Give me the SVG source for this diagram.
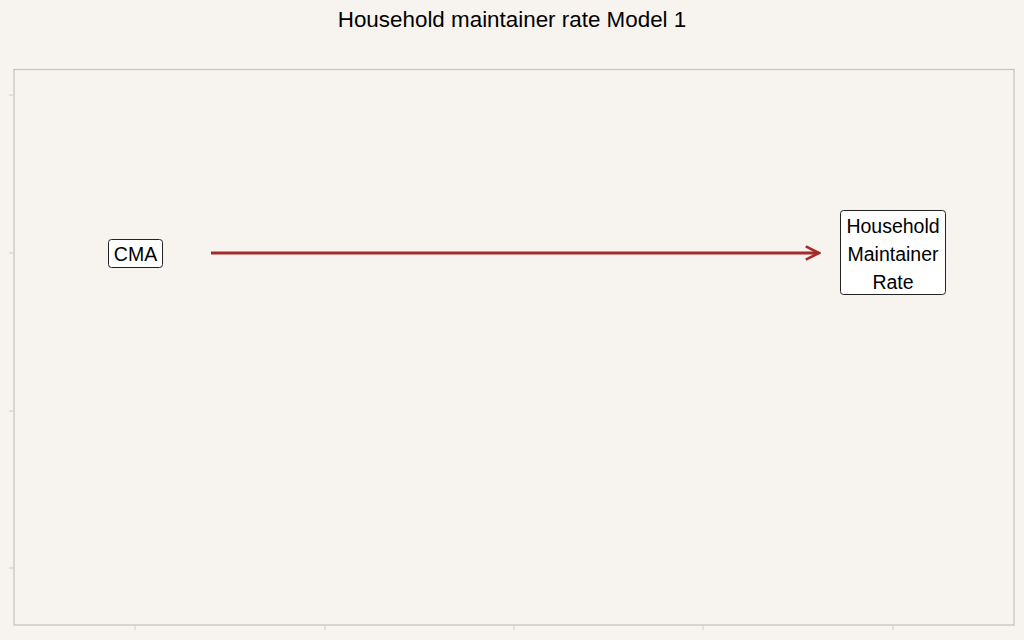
<svg xmlns="http://www.w3.org/2000/svg" width="1024" height="640" viewBox="0 0 1024 640">
<style>
text{font-family:"Liberation Sans",Arial,sans-serif;fill:#000}
.node rect{fill:#fff;stroke:#222;stroke-width:1}
.node text{font-size:19.5px;text-anchor:middle;dominant-baseline:central}
.tick{stroke:#d0ccc8;stroke-width:1}
</style>
<defs>
<marker id="ah" viewBox="0 0 10 10" refX="9" refY="5" markerWidth="5.5" markerHeight="5.5" orient="auto" markerUnits="strokeWidth">
<path d="M1,1 L9,5 L1,9" fill="none" stroke="#a52a2a" stroke-width="1.6" stroke-linejoin="miter"/>
</marker>
</defs>
<rect x="0" y="0" width="1024" height="640" fill="#f7f4ef"/>
<text x="512" y="27" font-size="22.4" text-anchor="middle">Household maintainer rate Model 1</text>
<rect x="14" y="69.5" width="1000" height="555.5" fill="#f7f4ef" stroke="#c8c4c0" stroke-width="1.3"/>
<g class="tick">
<line x1="9" y1="95" x2="14" y2="95"/>
<line x1="9" y1="253" x2="14" y2="253"/>
<line x1="9" y1="411" x2="14" y2="411"/>
<line x1="9" y1="568" x2="14" y2="568"/>
<line x1="135" y1="625" x2="135" y2="630"/>
<line x1="325" y1="625" x2="325" y2="630"/>
<line x1="514" y1="625" x2="514" y2="630"/>
<line x1="703" y1="625" x2="703" y2="630"/>
<line x1="893" y1="625" x2="893" y2="630"/>
</g>
<g id="connectors">
<line x1="211" y1="253" x2="819" y2="253" stroke="#a52a2a" stroke-width="3" marker-end="url(#ah)"/>
</g>
<g id="cma" class="node">
<rect x="108.5" y="239.5" width="54" height="28" rx="3"/>
<text x="135.5" y="254">CMA</text>
</g>
<g id="hmr" class="node">
<rect x="840.5" y="210.5" width="105" height="84" rx="3"/>
<text x="893" y="226">Household</text>
<text x="893" y="254">Maintainer</text>
<text x="893" y="282">Rate</text>
</g>
</svg>
